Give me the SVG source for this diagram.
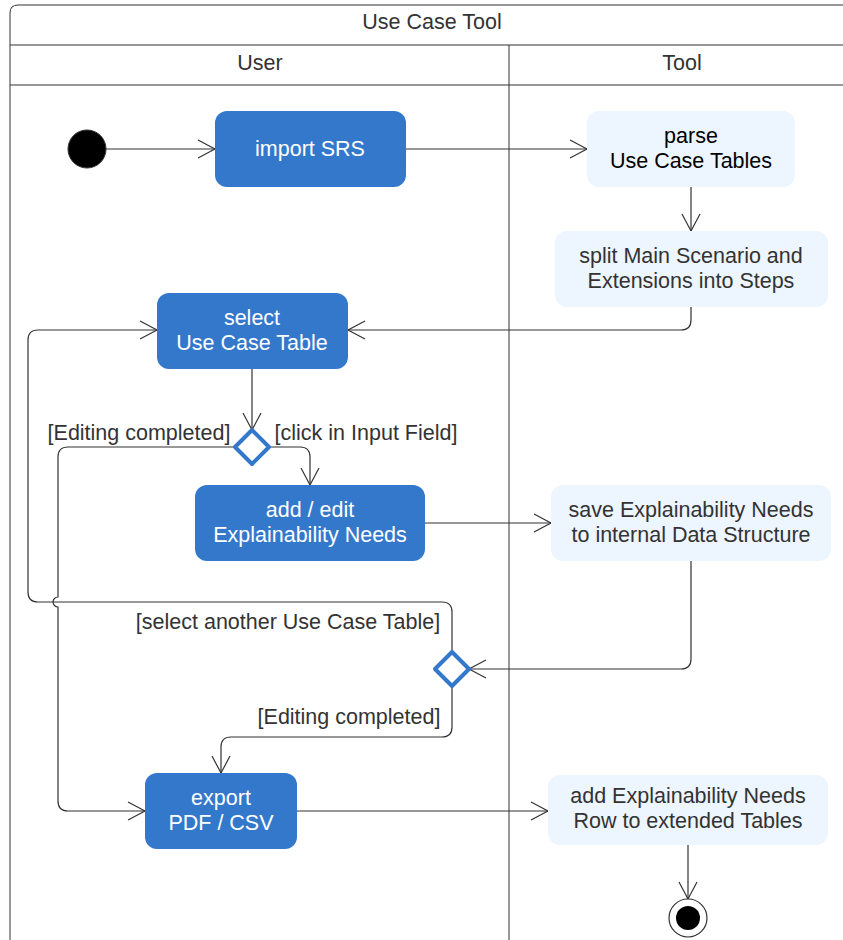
<svg xmlns="http://www.w3.org/2000/svg" width="843" height="940" viewBox="0 0 843 940">
<defs>
<style>
text{font-family:"Liberation Sans",Arial,sans-serif;font-size:21.5px;text-anchor:middle}
.hdr{fill:#333333}
.lbl{fill:#333333}
.wt{fill:#ffffff}
.dk{fill:#333333}
.act{fill:#3478CC}
.lt{fill:#EDF5FF}
.frame{fill:none;stroke:#333333;stroke-width:1}
.edge{fill:none;stroke:#333333;stroke-width:1.2;marker-end:url(#arr)}
.dec{fill:#ffffff;stroke:#3478CC;stroke-width:4;stroke-linejoin:round}
</style>
<marker id="arr" viewBox="0 0 20 20" refX="18" refY="10" markerWidth="20" markerHeight="20" markerUnits="userSpaceOnUse" orient="auto">
<path d="M1,1 L18,10 L1,19" fill="none" stroke="#333333" stroke-width="1.2"/>
</marker>
</defs>
<rect width="843" height="940" fill="#ffffff"/>
<g id="frame">
<path class="frame" d="M10,945 L10,13 Q10,5 18,5 L850,5"/>
<line class="frame" x1="10" y1="45" x2="850" y2="45"/>
<line class="frame" x1="10" y1="85" x2="850" y2="85"/>
<line class="frame" x1="509" y1="45" x2="509" y2="945"/>
<text class="hdr" x="432" y="29">Use Case Tool</text>
<text class="hdr" x="260" y="70">User</text>
<text class="hdr" x="682" y="70">Tool</text>
</g>
<g id="connectors">
<path class="edge" d="M106,149 L215,149"/>
<path class="edge" d="M406,149 L587,149"/>
<path class="edge" d="M691,187 L691,231"/>
<path class="edge" d="M691,307 L691,320 Q691,330 681,330 L348,330"/>
<path class="edge" d="M252,369 L252,430"/>
<path class="edge" d="M270,447 L300,447 Q310,447 310,457 L310,485"/>
<path class="edge" d="M234,447 L68,447 Q58,447 58,457 L58,597 A5,5 0 0 0 58,607 L58,801 Q58,811 68,811 L145,811"/>
<path class="edge" d="M425,523 L551,523"/>
<path class="edge" d="M691,561 L691,659 Q691,669 681,669 L469,669"/>
<path class="edge" d="M452,652 L452,612 Q452,602 442,602 L38,602 Q28,602 28,592 L28,340 Q28,330 38,330 L157,330"/>
<path class="edge" d="M452,686 L452,727 Q452,737 442,737 L231,737 Q221,737 221,747 L221,773"/>
<path class="edge" d="M297,811 L548,811"/>
<path class="edge" d="M688,845 L688,899"/>
<text class="lbl" x="139" y="440">[Editing completed]</text>
<text class="lbl" x="366" y="440">[click in Input Field]</text>
<text class="lbl" x="288" y="629">[select another Use Case Table]</text>
<text class="lbl" x="349" y="724">[Editing completed]</text>
</g>
<g id="start">
<circle cx="87" cy="149" r="19" fill="#000000" stroke="#333333" stroke-width="1"/>
</g>
<g id="importSRS">
<rect class="act" x="215" y="111" width="191" height="76" rx="12"/>
<text class="wt" x="310" y="156">import SRS</text>
</g>
<g id="parse">
<rect class="lt" x="587" y="111" width="208" height="76" rx="12"/>
<text fill="#000000" x="691" y="143">parse</text>
<text fill="#000000" x="691" y="168">Use Case Tables</text>
</g>
<g id="split">
<rect class="lt" x="555" y="231" width="273" height="76" rx="12"/>
<text class="dk" x="691" y="263">split Main Scenario and</text>
<text class="dk" x="691" y="288">Extensions into Steps</text>
</g>
<g id="select">
<rect class="act" x="157" y="293" width="191" height="76" rx="12"/>
<text class="wt" x="252" y="325">select</text>
<text class="wt" x="252" y="350">Use Case Table</text>
</g>
<g id="decision1">
<path class="dec" d="M252,430 L269,447 L252,464 L235,447 Z"/>
</g>
<g id="addEdit">
<rect class="act" x="195" y="485" width="230" height="76" rx="12"/>
<text class="wt" x="310" y="517">add / edit</text>
<text class="wt" x="310" y="542">Explainability Needs</text>
</g>
<g id="save">
<rect class="lt" x="551" y="485" width="280" height="76" rx="12"/>
<text class="dk" x="691" y="517">save Explainability Needs</text>
<text class="dk" x="691" y="542">to internal Data Structure</text>
</g>
<g id="decision2">
<path class="dec" d="M452,652 L469,669 L452,686 L435,669 Z"/>
</g>
<g id="export">
<rect class="act" x="145" y="773" width="152" height="76" rx="12"/>
<text class="wt" x="221" y="805">export</text>
<text class="wt" x="221" y="830">PDF / CSV</text>
</g>
<g id="addRow">
<rect class="lt" x="548" y="775" width="280" height="70" rx="12"/>
<text class="dk" x="688" y="803">add Explainability Needs</text>
<text class="dk" x="688" y="828">Row to extended Tables</text>
</g>
<g id="end">
<circle cx="688" cy="918" r="19" fill="#ffffff" stroke="#333333" stroke-width="1.2"/>
<circle cx="688" cy="918" r="12" fill="#000000"/>
</g>
</svg>
